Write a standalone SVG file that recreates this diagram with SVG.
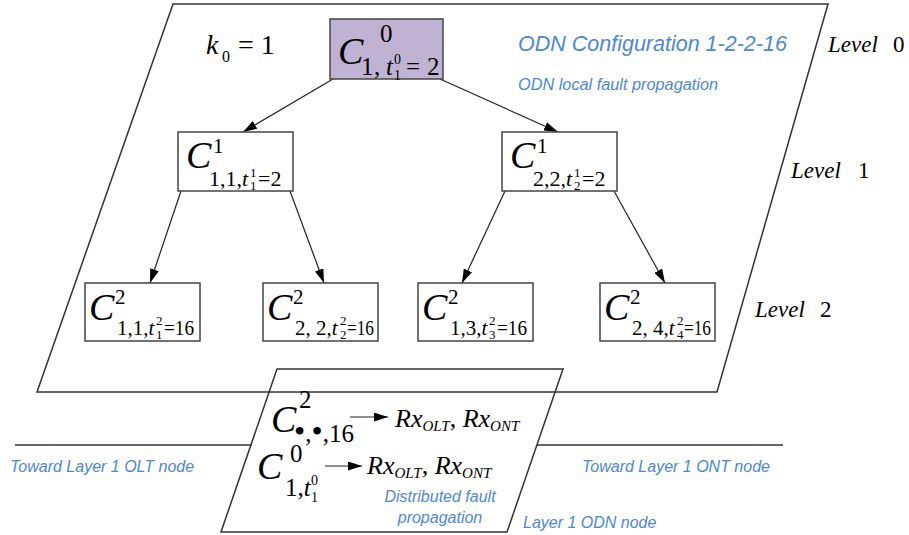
<svg xmlns="http://www.w3.org/2000/svg" width="909" height="535" viewBox="0 0 909 535">
<defs>
<marker id="ah" viewBox="0 0 14 9" refX="14" refY="4.5" markerWidth="14" markerHeight="9" markerUnits="userSpaceOnUse" orient="auto">
<path d="M0,0 L14,4.5 L0,9 z" fill="#000"/>
</marker>
</defs>
<style>
.frame{fill:none;stroke:#333;stroke-width:1.5}
.box{fill:#fff;stroke:#444;stroke-width:1.5}
.root{fill:#c0b2d3;stroke:#444;stroke-width:1.5}
.con{stroke:#222;stroke-width:1.2;fill:none;marker-end:url(#ah)}
.m{font-family:"Liberation Serif","Times New Roman",serif;fill:#000}
.i{font-style:italic}
.C{font-size:38px;font-style:italic}
.sup{font-size:21px}
.sub{font-size:22px}
.sub2{font-size:21px}
.tiny{font-size:13px}
.blue{font-family:"Liberation Sans",Arial,sans-serif;font-style:italic;fill:#4d87d6}
</style>
<g id="frames">
<polygon class="frame" points="173,4 828,4 717,392 37,392"/>
<line class="frame" x1="15" y1="445" x2="252" y2="445"/>
<line class="frame" x1="537" y1="445" x2="783" y2="445"/>
<polygon class="frame" points="277,369 563,369 507,532 221,532"/>
</g>
<g id="connectors">
<line class="con" x1="333" y1="79" x2="243" y2="132"/>
<line class="con" x1="440" y1="79" x2="558" y2="132"/>
<line class="con" x1="181" y1="191" x2="150" y2="283"/>
<line class="con" x1="290" y1="191" x2="324" y2="283"/>
<line class="con" x1="505" y1="191" x2="462" y2="283"/>
<line class="con" x1="614" y1="191" x2="665" y2="283"/>
<line class="con" x1="350" y1="417" x2="388" y2="417"/>
<line class="con" x1="325" y1="466" x2="362" y2="466"/>
</g>
<g id="k0">
<text class="m i" x="206" y="54" font-size="28">k</text>
<text class="m" x="222" y="62" font-size="16">0</text>
<text class="m" x="238" y="54" font-size="28">= 1</text>
</g>
<g id="root">
<rect class="root" x="330" y="19" width="113" height="60"/>
<text class="m C" x="338" y="64" font-size="41">C</text>
<text class="m" x="380" y="42" font-size="25">0</text>
<text class="m" x="361" y="75" font-size="25">1</text>
<text class="m" x="374" y="75" font-size="25">,</text>
<text class="m i" x="386" y="75" font-size="25">t</text>
<text class="m" x="394" y="64" font-size="14">0</text>
<text class="m" x="394" y="80" font-size="14">1</text>
<text class="m" x="406" y="75" font-size="25">=</text>
<text class="m" x="427" y="75" font-size="25">2</text>
</g>
<g id="n1a">
<rect class="box" x="178" y="132" width="115" height="59"/>
<text class="m C" x="186" y="168">C</text>
<text class="m sup" x="213" y="153">1</text>
<text class="m sub" x="209" y="186">1,1,<tspan class="i">t</tspan></text>
<text class="m tiny" x="250" y="177">1</text>
<text class="m tiny" x="250" y="190">1</text>
<text class="m sub" x="258" y="186">=2</text>
</g>
<g id="n1b">
<rect class="box" x="502" y="132" width="115" height="59"/>
<text class="m C" x="510" y="168">C</text>
<text class="m sup" x="537" y="153">1</text>
<text class="m sub" x="533" y="186">2,2,<tspan class="i">t</tspan></text>
<text class="m tiny" x="574" y="177">1</text>
<text class="m tiny" x="574" y="190">2</text>
<text class="m sub" x="582" y="186">=2</text>
</g>
<g id="n2a">
<rect class="box" x="85" y="283" width="115" height="58"/>
<text class="m C" x="89" y="320">C</text>
<text class="m sup" x="115" y="304">2</text>
<text class="m sub2" x="117" y="335">1,1,<tspan class="i">t</tspan></text>
<text class="m tiny" x="156" y="325">2</text>
<text class="m tiny" x="156" y="339">1</text>
<text class="m sub2" x="164" y="335" textLength="30" lengthAdjust="spacingAndGlyphs">=16</text>
</g>
<g id="n2b">
<rect class="box" x="263" y="283" width="115" height="58"/>
<text class="m C" x="267" y="320">C</text>
<text class="m sup" x="293" y="304">2</text>
<text class="m sub2" x="295" y="335">2, 2,<tspan class="i">t</tspan></text>
<text class="m tiny" x="340" y="325">2</text>
<text class="m tiny" x="340" y="339">2</text>
<text class="m sub2" x="347" y="335" textLength="27" lengthAdjust="spacingAndGlyphs">=16</text>
</g>
<g id="n2c">
<rect class="box" x="418" y="283" width="115" height="58"/>
<text class="m C" x="422" y="320">C</text>
<text class="m sup" x="448" y="304">2</text>
<text class="m sub2" x="450" y="335">1,3,<tspan class="i">t</tspan></text>
<text class="m tiny" x="489" y="325">2</text>
<text class="m tiny" x="489" y="339">3</text>
<text class="m sub2" x="497" y="335" textLength="30" lengthAdjust="spacingAndGlyphs">=16</text>
</g>
<g id="n2d">
<rect class="box" x="600" y="283" width="115" height="58"/>
<text class="m C" x="604" y="320">C</text>
<text class="m sup" x="630" y="304">2</text>
<text class="m sub2" x="632" y="335">2, 4,<tspan class="i">t</tspan></text>
<text class="m tiny" x="677" y="325">2</text>
<text class="m tiny" x="677" y="339">4</text>
<text class="m sub2" x="684" y="335" textLength="27" lengthAdjust="spacingAndGlyphs">=16</text>
</g>
<g id="levels">
<text class="m" x="828" y="52" font-size="23"><tspan class="i">Level</tspan><tspan x="893">0</tspan></text>
<text class="m" x="791" y="178" font-size="23"><tspan class="i">Level</tspan><tspan x="858">1</tspan></text>
<text class="m" x="755" y="317" font-size="23"><tspan class="i">Level</tspan><tspan x="820">2</tspan></text>
</g>
<g id="labels">
<text class="blue" x="518" y="51" font-size="21.5">ODN Configuration 1-2-2-16</text>
<text class="blue" x="518" y="90" font-size="16.3">ODN local fault propagation</text>
<text class="blue" x="10" y="472" font-size="16">Toward Layer 1 OLT node</text>
<text class="blue" x="582" y="472" font-size="16">Toward Layer 1 ONT node</text>
<text class="blue" x="523" y="528" font-size="16">Layer 1 ODN node</text>
<text class="blue" x="440" y="502" font-size="16" text-anchor="middle">Distributed fault</text>
<text class="blue" x="440" y="523" font-size="16" text-anchor="middle">propagation</text>
</g>
<g id="dist">
<text class="m C" x="271" y="432" font-size="41">C</text>
<text class="m" x="299" y="408" font-size="25">2</text>
<text class="m" x="294" y="442" font-size="25"><tspan font-size="32">•</tspan>,<tspan font-size="32">•</tspan>,16</text>
<text class="m" x="395" y="427" font-size="26"><tspan class="i">Rx</tspan><tspan font-size="15" class="i" dy="4">OLT</tspan><tspan dy="-4">, </tspan><tspan class="i">Rx</tspan><tspan font-size="15" class="i" dy="4">ONT</tspan></text>
<text class="m C" x="257" y="479" font-size="41">C</text>
<text class="m" x="290" y="462" font-size="25">0</text>
<text class="m" x="285" y="496" font-size="25">1,<tspan class="i">t</tspan></text>
<text class="m" x="311" y="485" font-size="14">0</text>
<text class="m" x="311" y="502" font-size="14">1</text>
<text class="m" x="367" y="474" font-size="26"><tspan class="i">Rx</tspan><tspan font-size="15" class="i" dy="4">OLT</tspan><tspan dy="-4">, </tspan><tspan class="i">Rx</tspan><tspan font-size="15" class="i" dy="4">ONT</tspan></text>
</g>
</svg>
